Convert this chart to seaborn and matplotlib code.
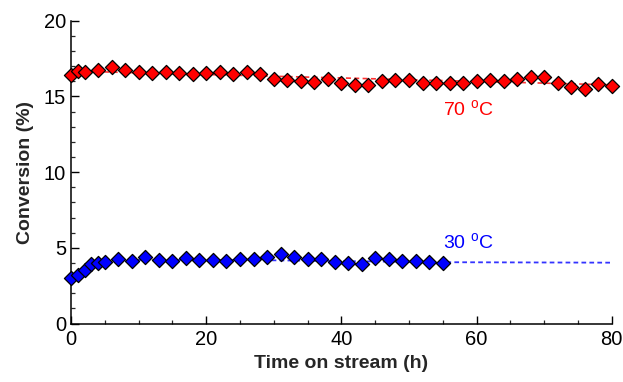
import numpy as np
import pandas as pd
from matplotlib import pyplot as plt
import seaborn as sns

# время, ч
t_70 = [0, 1, 2] + list(range(4, 81, 2))
conv_70 = [16.43, 16.66, 16.64, 16.71, 16.93, 16.71, 16.60, 16.53, 16.64, 16.56,
           16.47, 16.53, 16.64, 16.47, 16.63, 16.49, 16.16, 16.10, 16.03, 15.97,
           16.12, 15.90, 15.75, 15.73, 16.00, 16.08, 16.08, 15.90, 15.88, 15.88,
           15.88, 16.00, 16.06, 16.00, 16.17, 16.26, 16.30, 15.90, 15.64, 15.50,
           15.80, 15.70]

t_30 = [0, 1, 2, 3, 4, 5] + list(range(7, 56, 2))
conv_30 = [2.99, 3.20, 3.53, 3.91, 3.98, 4.08, 4.24, 4.13, 4.37, 4.19,
           4.15, 4.31, 4.19, 4.19, 4.11, 4.24, 4.24, 4.37, 4.57, 4.41,
           4.24, 4.24, 4.08, 4.02, 3.95, 4.33, 4.24, 4.13, 4.11, 4.04,
           3.98]

# линии тренда
trend_t_70 = [0, 80]
trend_70 = [16.67, 15.76]
trend_t_30 = [5, 25, 55, 80]
trend_30 = [4.2, 4.2, 4.05, 4.02]

labels = ['70 $^\\mathregular{o}$C', '30 $^\\mathregular{o}$C']
label_pos = [(55, 14.1), (55, 5.35)]
colors = ['#ff0000', '#0000ff']

df_70 = pd.DataFrame({'t': t_70, 'conv': conv_70})
df_30 = pd.DataFrame({'t': t_30, 'conv': conv_30})

sns.set_style('ticks')
plt.rcParams['font.family'] = ['Liberation Sans', 'DejaVu Sans']

fig = plt.figure(figsize=(6.23, 3.82), dpi=100)
ax = fig.add_axes([0.114, 0.153, 0.868, 0.793])

'''Пунктирные линии тренда'''
sns.lineplot(x=trend_t_70, y=trend_70, ax=ax, color=colors[0], lw=1.2,
             linestyle=(0, (3, 2)), alpha=0.8)
sns.lineplot(x=trend_t_30, y=trend_30, ax=ax, color=colors[1], lw=1.3,
             linestyle=(0, (2.6, 1.8)), alpha=0.8)

'''Точки'''
for df, c in zip([df_70, df_30], colors):
    sns.scatterplot(data=df, x='t', y='conv', ax=ax, marker='D', s=52,
                    color=c, edgecolor='black', linewidth=0.9, zorder=3,
                    clip_on=False)

for (x, y), text, c in zip(label_pos, labels, colors):
    ax.text(x, y, text, color=c, fontsize=14, va='center', ha='left')

ax.set_xlim(0, 80)
ax.set_ylim(0, 20)
ax.set_xticks(range(0, 81, 20))
ax.set_xticks(range(0, 81, 5), minor=True)
ax.set_yticks(range(0, 21, 5))
ax.set_yticks(range(0, 21, 1), minor=True)
ax.tick_params(which='major', direction='in', length=5.8, width=1,
               labelsize=14.5, colors='black')
ax.tick_params(axis='x', which='major', pad=5)
ax.tick_params(axis='y', which='major', pad=3.5)
ax.tick_params(which='minor', direction='in', length=2.9, width=0.9)
sns.despine(ax=ax)
for s in ['left', 'bottom']:
    ax.spines[s].set_linewidth(1.1)
    ax.spines[s].set_color('black')

ax.set_xlabel('Time on stream (h)', fontsize=14, fontweight='bold', labelpad=4)
ax.set_ylabel('Conversion (%)', fontsize=14, fontweight='bold', labelpad=7)

plt.savefig('out.png', dpi=100)
